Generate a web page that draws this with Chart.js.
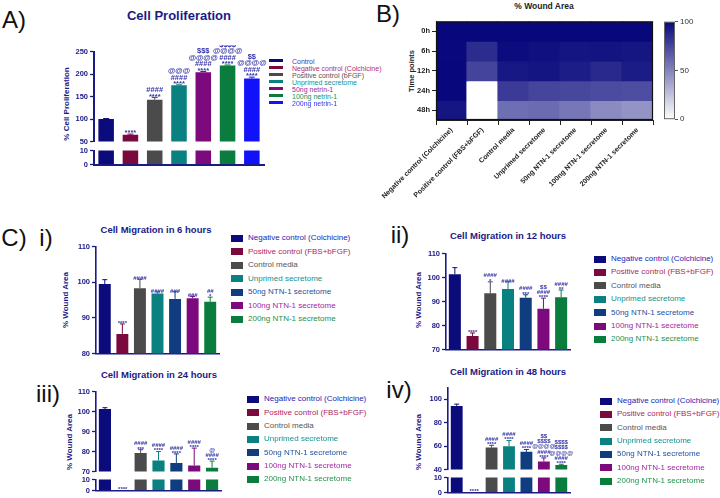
<!DOCTYPE html>
<html>
<head>
<meta charset="utf-8">
<script src="https://cdn.jsdelivr.net/npm/chart.js@4.4.1/dist/chart.umd.min.js"></script>
<style>
  html, body { margin: 0; padding: 0; background: #fff; }
  #fig { position: relative; width: 720px; height: 498px; overflow: hidden; font-family: 'Liberation Sans', Arial, sans-serif; }
  #fig canvas { position: absolute; }
  .t { position: absolute; white-space: nowrap; line-height: 1; }
</style>
</head>
<body>
<div id="fig"></div>
<script>
const FONT = "'Liberation Sans', Arial, sans-serif";
Chart.defaults.font.family = FONT;
const NAVY = "#1b1b86";
const MARK = "#3434a8";

// ---- A) proliferation ----
const profLabels = ["Control", "Negative control (Colchicine)", "Positive control (bFGF)", "Unprimed secretome", "50ng netrin-1", "100ng netrin-1", "200ng netrin-1"];
const profValues = [100, 65, 143, 175, 204, 219, 190];
const profErrors = [1, 1.5, 5, 1, 1.5, 1, 3];
// significance marks, listed from the bar upwards
const profMarks = [[], ["****"], ["****", "####"], ["****", "####", "@@@"], ["****", "####", "@@@@", "$$$"], ["****", "####", "@@@@", "$$$$"], ["****", "####", "@@@@", "$$"]];
const profTicks = [50, 100, 150, 200, 250];
const lowTicks = [0, 10];

// ---- B/C) wound area ----
const migLabels = ["Negative control (Colchicine)", "Positive control (FBS+bFGF)", "Control media", "Unprimed secretome", "50ng NTN-1 secretome", "100ng NTN-1 secretome", "200ng NTN-1 secretome"];
const timeLabels = ["0h", "6h", "12h", "24h", "48h"];
const wound0h = [100, 100, 100, 100, 100, 100, 100];
const mig6h = [99.5, 85.5, 98.3, 96.8, 95.3, 95.5, 94.5];
const mig6hErr = [1.2, 2.8, 2.5, 0.5, 2, 0.5, 1.3];
const mig6hMarks = [[], ["****"], ["####"], ["####"], ["###"], ["###"], ["*", "##"]];
const mig12h = [101.4, 75.6, 93.4, 95.2, 91.6, 87, 91.8];
const mig12hErr = [2.7, 1.3, 4.8, 3, 1.2, 4.4, 3];
const mig12hMarks = [[], ["****"], ["*", "####"], ["####"], ["***", "####"], ["****", "####", "$$"], ["**", "####"]];
const mig24h = [101.3, 0, 79.3, 75.5, 74.3, 73, 71.9];
const mig24hErr = [0.6, 0, 1.6, 4.5, 4.5, 8.7, 3.3];
const mig24hMarks = [[], ["****"], ["***", "####"], ["****", "####"], ["****", "####"], ["****", "####"], ["****", "####", "@"]];
const mig48h = [94.3, 0, 58.7, 59.9, 55.1, 46.9, 43.9];
const mig48hErr = [1.5, 0, 2, 4.8, 2, 3, 0.6];
const mig48hMarks = [[], ["****"], ["****", "####"], ["****", "####"], ["****", "####"], ["****", "####", "@@@@", "$$$$", "$$"], ["****", "####", "@@@@", "$$$$", "$$$$"]];
const heatTicks = [0, 50, 100];

// colours
const profColors = ["#0b0b7c", "#7a0a3e", "#4b4b4b", "#0a8080", "#7c0a7c", "#0a7c3e", "#1212fa"];
const profText = ["#3c3cbc", "#b0306a", "#555555", "#169090", "#a326a3", "#23904d", "#3434ee"];
const migColors = ["#0b0b7c", "#7a0a3e", "#4b4b4b", "#0a8080", "#0f3d80", "#7c0a7c", "#0a7c3e"];
const migText = ["#2424b4", "#b02660", "#555555", "#149090", "#24509f", "#a326a3", "#23904d"];

const fig = document.getElementById("fig");

function text(str, x, y, size, o = {}) {
  const d = document.createElement("div");
  d.className = "t";
  d.textContent = str;
  d.style.left = x + "px";
  d.style.top = y + "px";
  d.style.fontSize = size + "px";
  d.style.fontWeight = o.bold ? "bold" : "normal";
  d.style.color = o.color || "#111";
  const tx = o.left ? "0" : "-50%";
  d.style.transform = `translate(${tx},-50%)` + (o.rotate ? " rotate(-90deg)" : "");
  fig.appendChild(d);
}

function box(x, y, w, h, color) {
  const d = document.createElement("div");
  d.style.cssText = `position:absolute;left:${x}px;top:${y}px;width:${w}px;height:${h}px;background:${color}`;
  fig.appendChild(d);
}

function addCanvas(left, top, w, h) {
  const c = document.createElement("canvas");
  c.width = w;
  c.height = h;
  c.style.cssText = `left:${left}px;top:${top}px;width:${w}px;height:${h}px`;
  fig.appendChild(c);
  return c;
}

// error bars + stacked significance marks
function extras(errors, marks, st) {
  return {
    id: "extras",
    afterDatasetsDraw(chart) {
      const ctx = chart.ctx;
      const ys = chart.scales.y;
      const ds = chart.data.datasets[0];
      chart.getDatasetMeta(0).data.forEach((bar, i) => {
        const v = ds.data[i];
        let top = bar.y;
        if (errors && errors[i] && v >= ys.min) {
          const ey = ys.getPixelForValue(v + errors[i]);
          ctx.save();
          ctx.strokeStyle = ds.backgroundColor[i];
          ctx.lineWidth = 1;
          ctx.beginPath();
          ctx.moveTo(bar.x, bar.y);
          ctx.lineTo(bar.x, ey);
          ctx.moveTo(bar.x - st.cap, ey);
          ctx.lineTo(bar.x + st.cap, ey);
          ctx.stroke();
          ctx.restore();
          top = ey;
        }
        const m = marks ? marks[i] : null;
        if (!m || !m.length) return;
        ctx.save();
        ctx.fillStyle = MARK;
        ctx.font = `bold ${st.size}px ${FONT}`;
        ctx.textAlign = "center";
        ctx.textBaseline = "alphabetic";
        m.forEach((s, k) => {
          ctx.fillText(s, bar.x, top - 1 + st.size * 0.3 - k * st.gap);
        });
        ctx.restore();
      });
    },
  };
}

function frame(color, w) {
  return {
    id: "frame",
    afterDraw(chart) {
      const a = chart.chartArea;
      const ctx = chart.ctx;
      ctx.save();
      ctx.strokeStyle = color;
      ctx.lineWidth = w;
      ctx.strokeRect(a.left + 0.5, a.top + 0.5, a.right - a.left - 1, a.bottom - a.top - 1);
      ctx.restore();
    },
  };
}

function barSegment(area, o) {
  const yW = 30, padT = 6, padB = 6, padR = 4;
  const left = area.left - yW;
  const top = area.top - padT;
  const canvas = addCanvas(left, top, area.right + padR - left, area.bottom + padB - top);
  return new Chart(canvas, {
    type: "bar",
    data: {
      labels: o.labels,
      datasets: [{
        data: o.values,
        backgroundColor: o.colors,
        borderWidth: 0,
        barPercentage: o.barPct,
        categoryPercentage: 1,
        clip: 0,
      }],
    },
    options: {
      responsive: false,
      animation: false,
      layout: { autoPadding: false, padding: { top: padT, bottom: padB, right: padR, left: 0 } },
      plugins: { legend: { display: false }, tooltip: { enabled: false } },
      scales: {
        x: {
          display: o.showX,
          afterFit: (s) => { s.height = 0; },
          grid: { display: false, drawTicks: false },
          ticks: { display: false },
          border: { display: true, color: NAVY, width: o.axisW },
        },
        y: {
          min: o.min,
          max: o.max,
          afterFit: (s) => { s.width = yW; },
          afterBuildTicks: (s) => { s.ticks = o.ticks.map((v) => ({ value: v })); },
          grid: { drawOnChartArea: false, color: NAVY, tickLength: 4, tickWidth: 1.3 },
          border: { color: NAVY, width: o.axisW },
          ticks: { color: NAVY, padding: 2, font: { size: o.tickSize, weight: "bold" } },
        },
      },
    },
    plugins: [extras(o.errors, o.marks, o.st)],
  });
}

// broken y axis: upper segment + low 0-10 segment
function brokenBars(upper, lower, o) {
  const upMarks = o.marks.map((m, i) => (o.values[i] > 0 ? m : []));
  const lowMarks = o.marks.map((m, i) => (o.values[i] > 0 ? [] : m));
  barSegment(upper, Object.assign({}, o, { showX: false, marks: upMarks }));
  barSegment(lower, Object.assign({}, o, { min: 0, max: 10, ticks: lowTicks, showX: true, errors: null, marks: lowMarks }));
}

function squareLegend(x, y0, step) {
  migLabels.forEach((l, i) => {
    box(x, y0 + i * step - 3.5, 12, 7, migColors[i]);
    text(l, x + 17, y0 + i * step, 8, { left: true, color: migText[i] });
  });
}

// ================= A =================
text("A)", 14, 20, 24);
text("Cell Proliferation", 179, 15, 13, { bold: true, color: NAVY });
text("% Cell Proliferation", 67, 104, 8, { bold: true, color: NAVY, rotate: true });
brokenBars({ left: 94, right: 264, top: 51, bottom: 142 }, { left: 94, right: 264, top: 150, bottom: 165 }, {
  labels: profLabels, values: profValues, colors: profColors, min: 50, max: 250, ticks: profTicks,
  axisW: 2, barPct: 0.64, tickSize: 7.5, errors: profErrors, marks: profMarks,
  st: { size: 7.5, gap: 6.5, cap: 3 },
});
profLabels.forEach((l, i) => {
  box(269, 60.5 + i * 7 - 1.2, 14, 2.5, profColors[i]);
  text(l, 292, 60.5 + i * 7, 7, { left: true, color: profText[i] });
});

// ================= B =================
text("B)", 388, 14, 24);
text("% Wound Area", 544, 6, 8.5, { bold: true, color: "#222" });
text("Time points", 412, 71, 7.5, { bold: true, color: "#222", rotate: true });

const heatRows = [wound0h, mig6h, mig12h, mig24h, mig48h];
const lo = [255, 255, 255], hi = [8, 8, 124];
function heatColor(v) {
  const t = Math.max(0, Math.min(1, v / 100));
  const c = lo.map((a, k) => Math.round(a + (hi[k] - a) * t));
  return `rgb(${c[0]},${c[1]},${c[2]})`;
}

(function heatmap() {
  const area = { left: 436, right: 653, top: 21, bottom: 120 };
  const yW = 66, xH = 80, padT = 6, padR = 2;
  const left = area.left - yW, top = area.top - padT;
  const canvas = addCanvas(left, top, area.right + padR - left, area.bottom + xH - top);
  new Chart(canvas, {
    type: "bar",
    data: {
      labels: migLabels,
      // each time point is one stacked row of unit-height cells, coloured by its value
      datasets: heatRows.map((row, r) => ({
        label: timeLabels[r],
        data: row.map(() => 1),
        backgroundColor: row.map(heatColor),
        borderWidth: 0,
        barPercentage: 1,
        categoryPercentage: 1,
        inflateAmount: 0.6,
      })),
    },
    options: {
      responsive: false,
      animation: false,
      layout: { autoPadding: false, padding: { top: padT, bottom: 0, right: padR, left: 0 } },
      plugins: { legend: { display: false }, tooltip: { enabled: false } },
      scales: {
        x: {
          stacked: true,
          afterFit: (s) => { s.height = xH; },
          grid: { drawOnChartArea: false, color: "#222", tickLength: 5 },
          border: { color: "#222" },
          ticks: { minRotation: 45, maxRotation: 45, autoSkip: false, color: "#222", padding: 1, font: { size: 7, weight: "bold" } },
        },
        y: {
          stacked: true,
          min: 0,
          max: timeLabels.length,
          reverse: true,
          afterFit: (s) => { s.width = yW; },
          afterBuildTicks: (s) => { s.ticks = timeLabels.map((_, i) => ({ value: i + 0.5 })); },
          grid: { drawOnChartArea: false, color: "#222", tickLength: 4 },
          border: { color: "#222" },
          ticks: { color: "#222", padding: 2, font: { size: 7.5, weight: "bold" }, callback: (v) => timeLabels[Math.floor(v)] },
        },
      },
    },
    plugins: [frame("#111", 1.2)],
  });

  // colour bar
  const cb = { left: 664, right: 675, top: 21, bottom: 120 };
  const cW = 26;
  const cbCanvas = addCanvas(cb.left, cb.top - 6, cb.right - cb.left + cW, cb.bottom - cb.top + 12);
  new Chart(cbCanvas, {
    type: "bar",
    data: {
      labels: [""],
      datasets: [{
        data: [heatTicks[heatTicks.length - 1]],
        borderWidth: 0,
        barPercentage: 1,
        categoryPercentage: 1,
        backgroundColor: (c) => {
          const a = c.chart.chartArea;
          if (!a) return heatColor(100);
          const g = c.chart.ctx.createLinearGradient(0, a.bottom, 0, a.top);
          g.addColorStop(0, heatColor(0));
          g.addColorStop(1, heatColor(100));
          return g;
        },
      }],
    },
    options: {
      responsive: false,
      animation: false,
      layout: { autoPadding: false, padding: { top: 6, bottom: 6, left: 0, right: 0 } },
      plugins: { legend: { display: false }, tooltip: { enabled: false } },
      scales: {
        x: { display: false },
        y: {
          position: "right",
          min: 0,
          max: 100,
          afterFit: (s) => { s.width = cW; },
          afterBuildTicks: (s) => { s.ticks = heatTicks.map((v) => ({ value: v })); },
          grid: { drawOnChartArea: false, color: "#555", tickLength: 3 },
          border: { display: false },
          ticks: { color: "#333", padding: 2, font: { size: 8 } },
        },
      },
    },
    plugins: [frame("#666", 1)],
  });
})();

// ================= C =================
text("C)", 14, 238, 24);
const migBase = { labels: migLabels, colors: migColors, axisW: 1.6, barPct: 0.68, tickSize: 7.5, st: { size: 6, gap: 5.2, cap: 2.5 } };

// i) 6 hours
text("i)", 46, 238, 24);
text("Cell Migration in 6 hours", 156, 230, 9.5, { bold: true, color: NAVY });
text("% Wound Area", 66, 300, 8, { bold: true, color: NAVY, rotate: true });
barSegment({ left: 96, right: 219, top: 246, bottom: 354 }, Object.assign({}, migBase, {
  values: mig6h, errors: mig6hErr, marks: mig6hMarks, min: 80, max: 110, ticks: [80, 90, 100, 110], showX: true,
}));
squareLegend(231, 238.3, 13.45);

// ii) 12 hours
text("ii)", 400, 235, 24);
text("Cell Migration in 12 hours", 508, 236, 9.5, { bold: true, color: NAVY });
text("% Wound Area", 419, 300, 8, { bold: true, color: NAVY, rotate: true });
barSegment({ left: 446, right: 570, top: 253, bottom: 350 }, Object.assign({}, migBase, {
  values: mig12h, errors: mig12hErr, marks: mig12hMarks, min: 70, max: 110, ticks: [70, 80, 90, 100, 110], showX: true,
}));
squareLegend(594, 259, 13.4);

// iii) 24 hours
text("iii)", 48, 394, 24);
text("Cell Migration in 24 hours", 159, 375, 9.5, { bold: true, color: NAVY });
text("% Wound Area", 70, 442, 8, { bold: true, color: NAVY, rotate: true });
brokenBars({ left: 96, right: 221, top: 391, bottom: 472 }, { left: 96, right: 221, top: 479, bottom: 491 }, Object.assign({}, migBase, {
  values: mig24h, errors: mig24hErr, marks: mig24hMarks, min: 70, max: 110, ticks: [70, 80, 90, 100, 110],
}));
squareLegend(247, 399.3, 13.35);

// iv) 48 hours
text("iv)", 399, 390, 24);
text("Cell Migration in 48 hours", 508, 372, 9.5, { bold: true, color: NAVY });
text("% Wound Area", 419, 442, 8, { bold: true, color: NAVY, rotate: true });
brokenBars({ left: 448, right: 570, top: 387, bottom: 470 }, { left: 448, right: 570, top: 477, bottom: 493 }, Object.assign({}, migBase, {
  values: mig48h, errors: mig48hErr, marks: mig48hMarks, min: 40, max: 110, ticks: [40, 60, 80, 100],
}));
squareLegend(600, 401, 13.35);
</script>
</body>
</html>
